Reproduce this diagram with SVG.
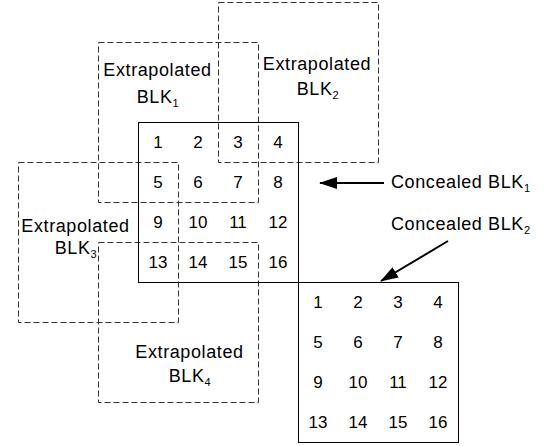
<svg xmlns="http://www.w3.org/2000/svg" width="546" height="446" viewBox="0 0 546 446">
<style>
.dash{fill:none;stroke:#333;stroke-width:1;stroke-dasharray:6 3}
.solid{fill:none;stroke:#000;stroke-width:1}
.lbl{font-family:"Liberation Sans",Arial,sans-serif;font-size:18px;letter-spacing:0.6px;fill:#000}
.num{font-family:"Liberation Sans",Arial,sans-serif;font-size:17px;fill:#000;text-anchor:middle}
.mid{text-anchor:middle}
.sub{font-size:11px}
.arrow{stroke:#000;stroke-width:2;fill:none}
</style>
<defs>
<marker id="ah" markerUnits="userSpaceOnUse" markerWidth="18" markerHeight="12" refX="17" refY="6" orient="auto">
<path d="M0,0 L18,6 L0,12 z" fill="#000"/>
</marker>
</defs>
<rect width="546" height="446" fill="#fff"/>

<g id="extrapolated-blk1">
<rect class="dash" x="98.5" y="42.5" width="160" height="160"/>
<text class="lbl mid" x="157.5" y="76">Extrapolated</text>
<text class="lbl mid" x="158" y="103">BLK<tspan class="sub" dy="4">1</tspan></text>
</g>
<g id="extrapolated-blk2">
<rect class="dash" x="218.5" y="2.5" width="160" height="160"/>
<text class="lbl mid" x="317" y="70">Extrapolated</text>
<text class="lbl mid" x="318" y="95">BLK<tspan class="sub" dy="4">2</tspan></text>
</g>
<g id="extrapolated-blk3">
<rect class="dash" x="18.5" y="162.5" width="160" height="160"/>
<text class="lbl mid" x="75.5" y="232">Extrapolated</text>
<text class="lbl mid" x="76" y="254">BLK<tspan class="sub" dy="4">3</tspan></text>
</g>
<g id="extrapolated-blk4">
<rect class="dash" x="98.5" y="242.5" width="160" height="160"/>
<text class="lbl mid" x="189.5" y="358">Extrapolated</text>
<text class="lbl mid" x="190" y="382">BLK<tspan class="sub" dy="4">4</tspan></text>
</g>

<g id="concealed-blk1">
<rect class="solid" x="138.5" y="122.5" width="160" height="160"/>
<text class="num" x="158" y="148">1</text><text class="num" x="198" y="148">2</text><text class="num" x="238" y="148">3</text><text class="num" x="278" y="148">4</text>
<text class="num" x="158" y="188">5</text><text class="num" x="198" y="188">6</text><text class="num" x="238" y="188">7</text><text class="num" x="278" y="188">8</text>
<text class="num" x="158" y="228">9</text><text class="num" x="198" y="228">10</text><text class="num" x="238" y="228">11</text><text class="num" x="278" y="228">12</text>
<text class="num" x="158" y="268">13</text><text class="num" x="198" y="268">14</text><text class="num" x="238" y="268">15</text><text class="num" x="278" y="268">16</text>
</g>
<g id="concealed-blk2">
<rect class="solid" x="298.5" y="282.5" width="160" height="160"/>
<text class="num" x="318" y="308">1</text><text class="num" x="358" y="308">2</text><text class="num" x="398" y="308">3</text><text class="num" x="438" y="308">4</text>
<text class="num" x="318" y="348">5</text><text class="num" x="358" y="348">6</text><text class="num" x="398" y="348">7</text><text class="num" x="438" y="348">8</text>
<text class="num" x="318" y="388">9</text><text class="num" x="358" y="388">10</text><text class="num" x="398" y="388">11</text><text class="num" x="438" y="388">12</text>
<text class="num" x="318" y="428">13</text><text class="num" x="358" y="428">14</text><text class="num" x="398" y="428">15</text><text class="num" x="438" y="428">16</text>
</g>

<g id="label-concealed-blk1">
<text class="lbl" x="391" y="187.5">Concealed BLK<tspan class="sub" dy="4">1</tspan></text>
</g>
<g id="label-concealed-blk2">
<text class="lbl" x="391" y="229.5">Concealed BLK<tspan class="sub" dy="4">2</tspan></text>
</g>

<g id="connectors">
<line class="arrow" x1="384" y1="183" x2="320" y2="183" marker-end="url(#ah)"/>
<line class="arrow" x1="448" y1="241" x2="381" y2="281" marker-end="url(#ah)"/>
</g>
</svg>
